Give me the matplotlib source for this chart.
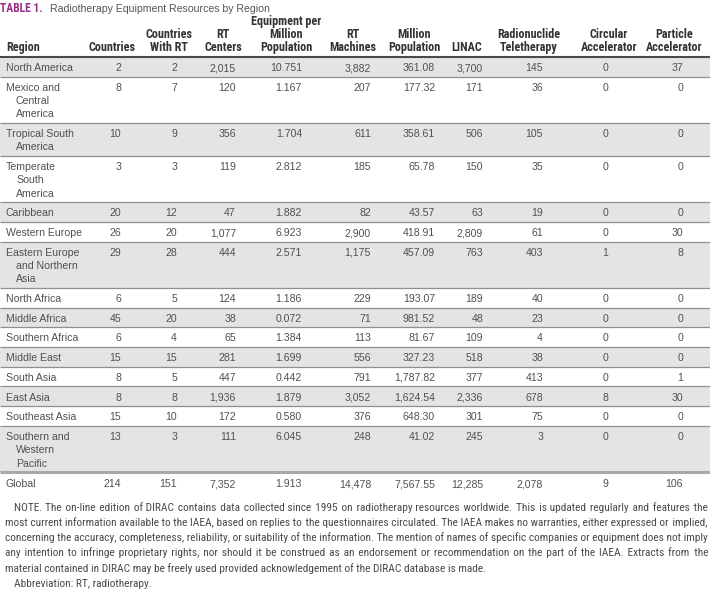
import matplotlib
matplotlib.use('Agg')
import matplotlib.pyplot as plt
from matplotlib import font_manager
from matplotlib.patches import Rectangle

# table data
regions = ['North America', 'Mexico and\nCentral\nAmerica', 'Tropical South\nAmerica',
           'Temperate\nSouth\nAmerica', 'Caribbean', 'Western Europe',
           'Eastern Europe\nand Northern\nAsia', 'North Africa', 'Middle Africa',
           'Southern Africa', 'Middle East', 'South Asia', 'East Asia',
           'Southeast Asia', 'Southern and\nWestern\nPacific']
countries = [2, 8, 10, 3, 20, 26, 29, 6, 45, 6, 15, 8, 8, 15, 13]
countries_rt = [2, 7, 9, 3, 12, 20, 28, 5, 20, 4, 15, 5, 8, 10, 3]
rt_centers = [2015, 120, 356, 119, 47, 1077, 444, 124, 38, 65, 281, 447, 1936, 172, 111]
equip_per_million = [10.751, 1.167, 1.704, 2.812, 1.882, 6.923, 2.571, 1.186, 0.072,
                     1.384, 1.699, 0.442, 1.879, 0.580, 6.045]
rt_machines = [3882, 207, 611, 185, 82, 2900, 1175, 229, 71, 113, 556, 791, 3052, 376, 248]
million_pop = [361.08, 177.32, 358.61, 65.78, 43.57, 418.91, 457.09, 193.07, 981.52,
               81.67, 327.23, 1787.82, 1624.54, 648.30, 41.02]
linac = [3700, 171, 506, 150, 63, 2809, 763, 189, 48, 109, 518, 377, 2336, 301, 245]
radionuclide = [145, 36, 105, 35, 19, 61, 403, 40, 23, 4, 38, 413, 678, 75, 3]
circular = [0, 0, 0, 0, 0, 0, 1, 0, 0, 0, 0, 0, 8, 0, 0]
particle = [37, 0, 0, 0, 0, 30, 8, 0, 0, 0, 0, 1, 30, 0, 0]
global_row = [214, 151, 7352, 1.913, 14478, 7567.55, 12285, 2078, 9, 106]

headers = ['Countries', 'Countries\nWith RT', 'RT\nCenters', 'Equipment per\nMillion\nPopulation',
           'RT\nMachines', 'Million\nPopulation', 'LINAC', 'Radionuclide\nTeletherapy',
           'Circular\nAccelerator', 'Particle\nAccelerator']
formats = ['{:,}', '{:,}', '{:,}', '{:.3f}', '{:,}', '{:,.2f}', '{:,}', '{:,}', '{:,}', '{:,}']

note_lines = [
    'NOTE. The on-line edition of DIRAC contains data collected since 1995 on radiotherapy '
    'resources worldwide. This is updated regularly and features the',
    'most current information available to the IAEA, based on replies to the questionnaires '
    'circulated. The IAEA makes no warranties, either expressed or implied,',
    'concerning the accuracy, completeness, reliability, or suitability of the information. '
    'The mention of names of specific companies or equipment does not imply',
    'any intention to infringe proprietary rights, nor should it be construed as an endorsement '
    'or recommendation on the part of the IAEA. Extracts from the',
    'material contained in DIRAC may be freely used provided acknowledgement of the DIRAC '
    'database is made.',
]
abbrev = 'Abbreviation: RT, radiotherapy.'

# layout (pixels)
col_center = [112, 169, 223, 286, 353, 414, 467, 529, 609, 674]
val_right = [121, 177, 236, 302, 371, 435, 483, 543, 608, 683]
header_base = 47
line_h = 13.3
pad = 6.4
top = 57
base_off = 4.2   # centre of a line -> text baseline

names = {f.name for f in font_manager.fontManager.ttflist}
narrow = dict(family='DejaVu Sans', stretch='condensed')
for cand in ['Liberation Sans Narrow', 'Roboto Condensed', 'Open Sans Condensed',
             'Noto Sans Condensed', 'Arial Narrow']:
    if cand in names:
        narrow = dict(family=[cand, 'DejaVu Sans'])
        break
body_font = 'Liberation Sans' if 'Liberation Sans' in names else 'DejaVu Sans'

fig = plt.figure(figsize=(7.1, 5.92), dpi=100)
ax = fig.add_axes([0, 0, 1, 1])
ax.set_xlim(0, 710)
ax.set_ylim(592, 0)
ax.axis('off')
renderer = fig.canvas.get_renderer()


def text_width(text, size=10, **kw):
    tmp = ax.text(0, 0, text, fontsize=size, **kw)
    w = tmp.get_window_extent(renderer).width
    tmp.remove()
    return w


def fit_size(text, target, **kw):
    # font size that makes `text` about `target` pixels wide
    return 10 * target / text_width(text, **kw)


# title
tsize = fit_size('TABLE 1.', 43, fontweight='bold', **narrow)
ax.text(0, 7.5 + base_off, 'TABLE 1.', color='#9a2f86', fontsize=tsize, fontweight='bold',
        va='baseline', ha='left', **narrow)
ax.text(50, 7.5 + base_off, 'Radiotherapy Equipment Resources by Region', color='#555555',
        fontsize=fit_size('Radiotherapy Equipment Resources by Region', 220, family=body_font),
        family=body_font, va='baseline', ha='left')

# header
hsize = fit_size('Equipment per', 70, fontweight='bold', **narrow)
hdr_kw = dict(fontsize=hsize, fontweight='bold', color='#333333', va='baseline', **narrow)
ax.text(6, header_base + base_off, 'Region', ha='left', **hdr_kw)
for cx, h in zip(col_center, headers):
    parts = h.split('\n')
    for k, p in enumerate(parts):
        ax.text(cx, header_base + base_off - (len(parts) - 1 - k) * line_h, p,
                ha='center', **hdr_kw)
ax.plot([0, 710], [top, top], color='#4a4a4a', lw=1.5, solid_capstyle='butt', zorder=3)

# body rows
bsize = fit_size('North America', 67, family=body_font)
cell_kw = dict(fontsize=bsize, family=body_font, color='#505050', va='baseline')
columns = [countries, countries_rt, rt_centers, equip_per_million, rt_machines,
           million_pop, linac, radionuclide, circular, particle]
y = top
for i, reg in enumerate(regions):
    parts = reg.split('\n')
    hgt = pad + line_h * len(parts)
    if i % 2 == 0:
        ax.add_patch(Rectangle((0, y), 710, hgt, color='#e4e4e4', lw=0, zorder=0))
    ty = y + pad / 2 + line_h / 2 + base_off
    for k, p in enumerate(parts):
        ax.text(6 if k == 0 else 16, ty + k * line_h, p, ha='left', **cell_kw)
    for col, fmt, xr in zip(columns, formats, val_right):
        ax.text(xr, ty, fmt.format(col[i]), ha='right', **cell_kw)
    y += hgt
    last = i == len(regions) - 1
    ax.plot([0, 710], [y, y], color='#a9a9a9' if last else '#8f8f8f',
            lw=2.2 if last else 0.9, solid_capstyle='butt', zorder=3)

# global row
gy = y + 11 + base_off
ax.text(6, gy, 'Global', ha='left', **cell_kw)
for v, fmt, xr in zip(global_row, formats, val_right):
    ax.text(xr, gy, fmt.format(v), ha='right', **cell_kw)

# note: one text per line, justified by padding the gaps with hair spaces
note_left = [14, 5, 5, 5, 5]
note_right = 708
nsize = min(fit_size(ln, note_right - x0 - 3, **narrow)
            for ln, x0 in zip(note_lines[:-1], note_left))
note_kw = dict(fontsize=nsize, color='#4a4a4a', va='baseline', ha='left', **narrow)
HAIR = '\u200a'
hair_w = (text_width('a' + HAIR * 10 + 'b', nsize, **narrow)
          - text_width('ab', nsize, **narrow)) / 10


def justify(line, x0, x1):
    words = line.split(' ')
    extra = (x1 - x0) - text_width(line, nsize, **narrow)
    n_hair = max(0, int(round(extra / hair_w))) if hair_w > 0 else 0
    gaps = len(words) - 1
    out = words[0]
    for g, wd in enumerate(words[1:]):
        k = n_hair * (g + 1) // gaps - n_hair * g // gaps
        out += ' ' + HAIR * k + wd
    return out


note_y = 507 + base_off
note_step = 15.1
for k, line in enumerate(note_lines):
    x0 = note_left[k]
    txt = justify(line, x0, note_right) if k < len(note_lines) - 1 else line
    ax.text(x0, note_y + k * note_step, txt, **note_kw)
ax.text(14, note_y + len(note_lines) * note_step, abbrev, **note_kw)

fig.savefig('out.png', dpi=100)
